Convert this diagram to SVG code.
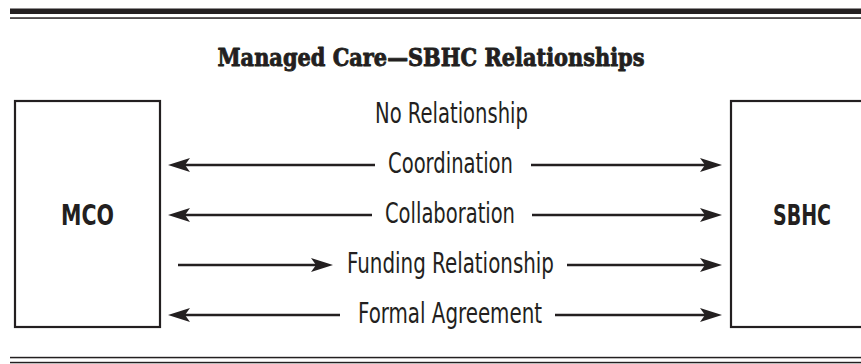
<svg xmlns="http://www.w3.org/2000/svg" width="861" height="364" viewBox="0 0 861 364">
  <style>
    .rule { fill: #231f20; }
    .box { fill: #ffffff; stroke: #231f20; stroke-width: 2.2; }
    .title { font-family: "DejaVu Serif", "Liberation Serif", serif; font-weight: bold; font-size: 24px; fill: #231f20; stroke: #231f20; stroke-width: 0.9; stroke-linejoin: round; }
    .label { font-family: "Liberation Sans Narrow", "DejaVu Sans Condensed", "Liberation Sans", sans-serif; font-size: 28px; fill: #231f20; }
    .name { font-family: "Liberation Sans Narrow", "DejaVu Sans Condensed", "Liberation Sans", sans-serif; font-weight: bold; font-size: 29px; fill: #231f20; }
    .link { stroke: #231f20; stroke-width: 2.6; fill: none; }
    .fwd { marker-end: url(#head); }
    .back { marker-start: url(#head); }
  </style>
  <defs>
    <!-- barbed arrowhead; the line stops at the notch, tip sits 14px beyond it -->
    <marker id="head" markerUnits="userSpaceOnUse" markerWidth="30" markerHeight="20" refX="0" refY="0" viewBox="-10 -10 30 20" orient="auto-start-reverse" overflow="visible">
      <path d="M-8,-7 L14,0 L-8,7 L-3,0 Z" fill="#231f20"/>
    </marker>
  </defs>

  <!-- page rules -->
  <rect class="rule" x="10" y="8.5" width="851" height="5.5"/>
  <rect class="rule" x="10" y="17.3" width="851" height="1.5"/>
  <rect class="rule" x="10" y="356.8" width="851" height="1.5"/>
  <rect class="rule" x="10" y="361.8" width="851" height="1.5"/>

  <text class="title" x="431" y="66" text-anchor="middle" textLength="427" lengthAdjust="spacingAndGlyphs">Managed Care—SBHC Relationships</text>

  <g id="mco">
    <rect class="box" x="15" y="101" width="145" height="226"/>
    <text class="name" x="87.5" y="225" text-anchor="middle" textLength="53" lengthAdjust="spacingAndGlyphs">MCO</text>
  </g>

  <g id="sbhc">
    <rect class="box" x="731" y="101" width="150" height="226"/>
    <text class="name" x="802" y="225" text-anchor="middle" textLength="58" lengthAdjust="spacingAndGlyphs">SBHC</text>
  </g>

  <g id="labels">
    <text class="label" x="451.5" y="123" text-anchor="middle" textLength="153" lengthAdjust="spacingAndGlyphs">No Relationship</text>
    <text class="label" x="450.5" y="173" text-anchor="middle" textLength="125" lengthAdjust="spacingAndGlyphs">Coordination</text>
    <text class="label" x="450" y="223" text-anchor="middle" textLength="130" lengthAdjust="spacingAndGlyphs">Collaboration</text>
    <text class="label" x="450.5" y="273" text-anchor="middle" textLength="207" lengthAdjust="spacingAndGlyphs">Funding Relationship</text>
    <text class="label" x="450" y="323" text-anchor="middle" textLength="184" lengthAdjust="spacingAndGlyphs">Formal Agreement</text>
  </g>

  <g id="connectors">
    <!-- Coordination: both ways -->
    <line class="link back" x1="182" y1="165" x2="375" y2="165"/>
    <line class="link fwd" x1="531" y1="165" x2="708" y2="165"/>
    <!-- Collaboration: both ways -->
    <line class="link back" x1="182" y1="215" x2="372" y2="215"/>
    <line class="link fwd" x1="532" y1="215" x2="708" y2="215"/>
    <!-- Funding Relationship: MCO to SBHC -->
    <line class="link fwd" x1="178" y1="265" x2="319" y2="265"/>
    <line class="link fwd" x1="567" y1="265" x2="708" y2="265"/>
    <!-- Formal Agreement: both ways -->
    <line class="link back" x1="182" y1="315" x2="340" y2="315"/>
    <line class="link fwd" x1="555" y1="315" x2="708" y2="315"/>
  </g>
</svg>
